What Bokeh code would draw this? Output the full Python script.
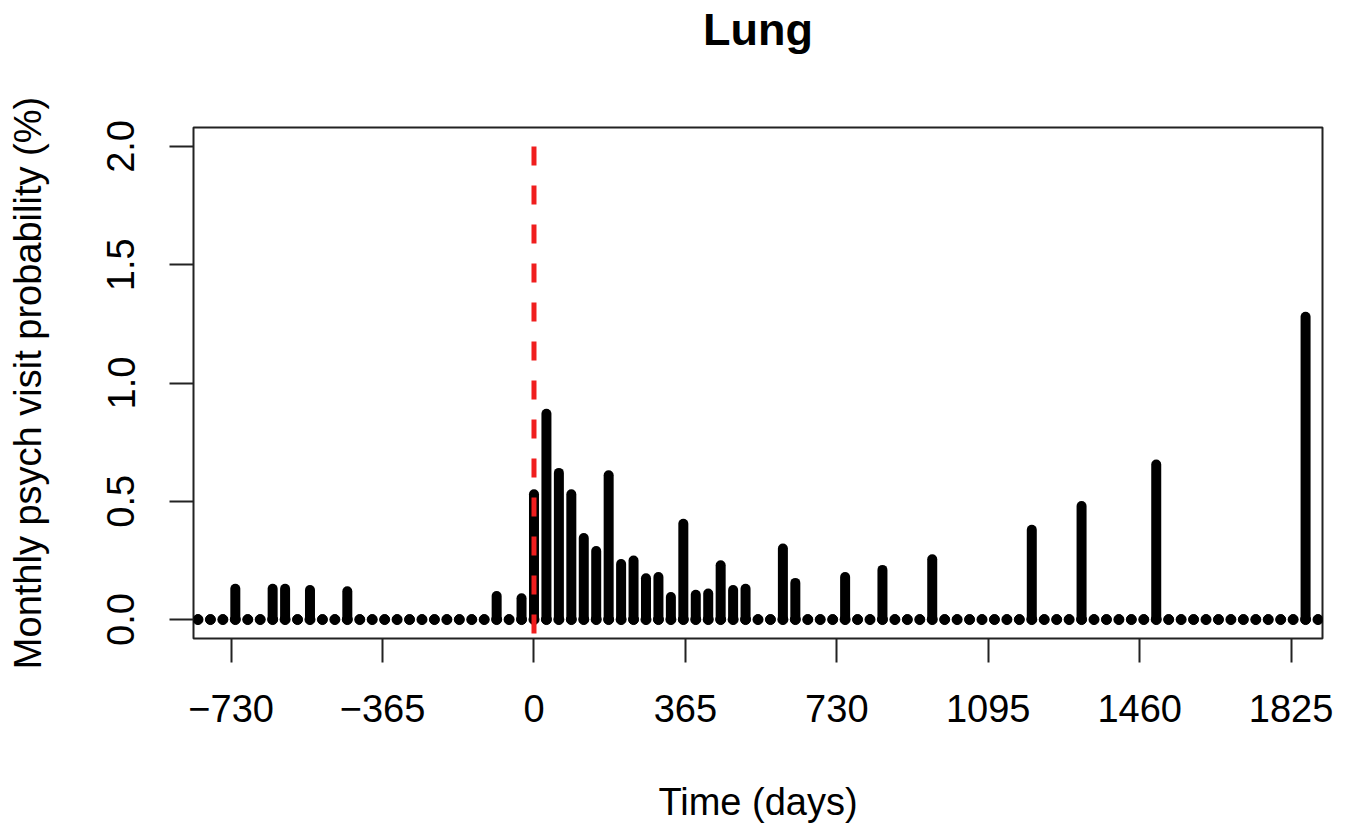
from bokeh.plotting import figure
from bokeh.models import FixedTicker, CustomJSTickFormatter, NumeralTickFormatter, Range1d, LinearAxis
from bokeh.embed import file_html
from bokeh.resources import INLINE

# month index relative to diagnosis (one bar per 30-day month)
months = list(range(-27, 64))
visit_pct = [
    0, 0, 0, 0.13, 0, 0, 0.13, 0.13, 0, 0.125,          # -27 .. -18
    0, 0, 0.12, 0, 0, 0, 0, 0, 0, 0,                    # -17 .. -8
    0, 0, 0, 0, 0.10, 0, 0.09,                          # -7 .. -1
    0.53, 0.87, 0.62, 0.53, 0.345, 0.29, 0.61, 0.235, 0.25, 0.175,  # 0 .. 9
    0.18, 0.095, 0.405, 0.105, 0.11, 0.23, 0.125, 0.13, 0, 0,        # 10 .. 19
    0.30, 0.155, 0, 0, 0, 0.18, 0, 0, 0.21, 0,                       # 20 .. 29
    0, 0, 0.255, 0, 0, 0, 0, 0, 0, 0,                                # 30 .. 39
    0.38, 0, 0, 0, 0.48, 0, 0, 0, 0, 0,                              # 40 .. 49
    0.655, 0, 0, 0, 0, 0, 0, 0, 0, 0,                                # 50 .. 59
    0, 0, 1.28, 0,                                                   # 60 .. 63
]
x_ticks = [-730, -365, 0, 365, 730, 1095, 1460, 1825]
y_ticks = [0.0, 0.5, 1.0, 1.5, 2.0]
title_text = "Lung"
days_per_month = 30
days = [m * days_per_month for m in months]
zeros = [0.0] * len(days)

FONT = "Liberation Sans"
X_LO, X_HI = -820.8, 1900.8
Y_LO, Y_HI = -0.08, 2.08

p = figure(width=1358, height=836, output_backend="svg", toolbar_location=None,
           x_range=Range1d(X_LO, X_HI), y_range=Range1d(Y_LO, Y_HI),
           min_border_left=193, min_border_right=36, min_border_top=126,
           min_border_bottom=198, background_fill_color="white",
           border_fill_color="white")
p.title.visible = False

p.xgrid.visible = False
p.ygrid.visible = False
p.outline_line_color = "#222222"
p.outline_line_width = 2
p.outline_line_alpha = 1

# bars (R type="h" with round ends)
p.segment(x0=days, y0=zeros, x1=days, y1=visit_pct, line_width=10,
          line_cap="round", line_color="black")
p.scatter(x=days, y=zeros, size=10, marker="circle", color="black")

# vertical dashed reference line at diagnosis
p.segment(x0=[0], y0=[2.0], x1=[0], y1=[Y_LO], line_color="#f01e1e",
          line_width=5, line_dash="19 20")

xax = p.below[0]
yax = p.left[0]
for ax in (xax, yax):
    ax.axis_line_color = None
    ax.major_tick_out = 24
    ax.major_tick_in = 0
    ax.minor_tick_out = 0
    ax.minor_tick_in = 0
    ax.major_tick_line_width = 2
    ax.major_tick_line_color = "#222222"
    ax.major_label_text_font = FONT
    ax.major_label_text_font_size = "38px"
    ax.major_label_text_color = "black"
    ax.axis_label_text_font = FONT
    ax.axis_label_text_font_size = "38px"
    ax.axis_label_text_font_style = "normal"
    ax.axis_label_text_color = "black"

xax.ticker = FixedTicker(ticks=x_ticks)
xax.formatter = CustomJSTickFormatter(
    code="return tick < 0 ? '\u2212' + Math.abs(tick) : String(tick);")
xax.major_label_standoff = 32
xax.axis_label = "Time (days)"
xax.axis_label_standoff = 56

yax.ticker = FixedTicker(ticks=y_ticks)
yax.formatter = NumeralTickFormatter(format="0.0")
yax.major_label_orientation = "vertical"
yax.major_label_standoff = 35
yax.axis_label = "Monthly psych visit probability (%)"
yax.axis_label_standoff = 56

# title drawn as the label of a bare axis above the frame (centred like R's main title)
title_axis = LinearAxis(ticker=FixedTicker(ticks=[]), axis_label=title_text,
                        axis_line_color=None, major_tick_out=0, major_tick_in=0,
                        minor_tick_out=0, minor_tick_in=0,
                        axis_label_text_font=FONT, axis_label_text_font_size="45px",
                        axis_label_text_font_style="bold",
                        axis_label_text_color="black", axis_label_standoff=73)
p.add_layout(title_axis, "above")

open("out.html", "w").write(file_html(p, INLINE))
